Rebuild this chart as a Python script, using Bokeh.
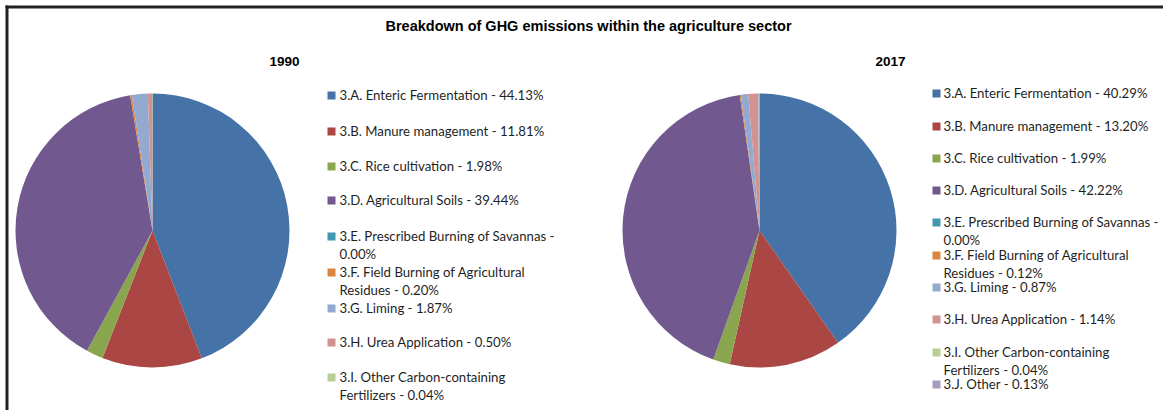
import numpy as np
from bokeh.plotting import figure
from bokeh.models import Range1d
from bokeh.core.properties import value
from bokeh.embed import file_html
from bokeh.resources import INLINE

# ---- data ----
title = "Breakdown of GHG emissions within the agriculture sector"
years = ["1990", "2017"]
labels_1990 = [
    "3.A. Enteric Fermentation - 44.13%",
    "3.B. Manure management - 11.81%",
    "3.C. Rice cultivation - 1.98%",
    "3.D. Agricultural Soils - 39.44%",
    "3.E. Prescribed Burning of Savannas -\n0.00%",
    "3.F. Field Burning of Agricultural\nResidues - 0.20%",
    "3.G. Liming - 1.87%",
    "3.H. Urea Application - 0.50%",
    "3.I. Other Carbon-containing\nFertilizers - 0.04%",
]
values_1990 = [44.13, 11.81, 1.98, 39.44, 0.00, 0.20, 1.87, 0.50, 0.04]
labels_2017 = [
    "3.A. Enteric Fermentation - 40.29%",
    "3.B. Manure management - 13.20%",
    "3.C. Rice cultivation - 1.99%",
    "3.D. Agricultural Soils - 42.22%",
    "3.E. Prescribed Burning of Savannas -\n0.00%",
    "3.F. Field Burning of Agricultural\nResidues - 0.12%",
    "3.G. Liming - 0.87%",
    "3.H. Urea Application - 1.14%",
    "3.I. Other Carbon-containing\nFertilizers - 0.04%",
    "3.J. Other - 0.13%",
]
values_2017 = [40.29, 13.20, 1.99, 42.22, 0.00, 0.12, 0.87, 1.14, 0.04, 0.13]
colors = ["#4572A7", "#AA4643", "#89A54E", "#71588F", "#4198AF",
          "#DB843D", "#93A9CF", "#D19392", "#B9CD96", "#A99BBD"]

# ---- layout (screen pixel positions) ----
W, H = 1163, 410
def sx(x): return x
def sy(y): return H - y

p = figure(width=W, height=H, output_backend="svg", toolbar_location=None,
           x_range=Range1d(0, W), y_range=Range1d(0, H),
           min_border=0, outline_line_color=None)
p.axis.visible = False
p.grid.visible = False

# frame
p.line([sx(6.5), sx(6.5)], [sy(5), sy(420)], line_color="#222222", line_width=3)
p.line([sx(5), sx(1171)], [sy(6.5), sy(6.5)], line_color="#222222", line_width=3)

TEXT_FONT = value("Lato")
FS = 13.2
p.text([sx(588)], [sy(25)], text=[title], text_font=value("Liberation Sans"),
       text_font_style="bold", text_font_size="14.5px", text_align="center",
       text_baseline="middle", text_color="#000000")

pies = [
    dict(vals=values_1990, labels=labels_1990, cx=152, cy=230, r=137,
         yr_x=284, sq_x=331, tx_x=339,
         rows=[95, 131, 166, 200, 236, 272, 308, 342, 377]),
    dict(vals=values_2017, labels=labels_2017, cx=759, cy=230, r=137,
         yr_x=890, sq_x=936, tx_x=943,
         rows=[93, 126, 158, 190, 222, 255, 287, 319, 352, 384]),
]

for yr, cfg in zip(years, pies):
    vals = np.array(cfg["vals"], dtype=float)
    n = len(vals)
    frac = vals / vals.sum()
    c1 = np.cumsum(frac)
    c0 = c1 - frac
    start = np.pi / 2 - c1 * 2 * np.pi
    end = np.pi / 2 - c0 * 2 * np.pi
    keep = vals > 0
    m = int(keep.sum())
    p.wedge(x=[sx(cfg["cx"])] * m, y=[sy(cfg["cy"])] * m, radius=cfg["r"],
            radius_units="screen", start_angle=list(start[keep]),
            end_angle=list(end[keep]),
            fill_color=[c for c, k in zip(colors[:n], keep) if k], line_color=None)
    p.text([sx(cfg["yr_x"])], [sy(61)], text=[yr],
           text_font=value("Liberation Sans"), text_font_style="bold",
           text_font_size="13.5px", text_align="center", text_baseline="middle",
           text_color="#000000")
    rows = cfg["rows"]
    p.scatter([sx(cfg["sq_x"])] * n, [sy(r) for r in rows], marker="square",
              size=8, fill_color=colors[:n], line_color=None)
    p.text([sx(cfg["tx_x"])] * n, [sy(r - 9) for r in rows], text=cfg["labels"],
           text_font=TEXT_FONT, text_font_size=f"{FS}px", text_align="left",
           text_baseline="top", text_line_height=1.18, text_color="#1f1f1f")

open("out.html", "w").write(file_html(p, INLINE))
